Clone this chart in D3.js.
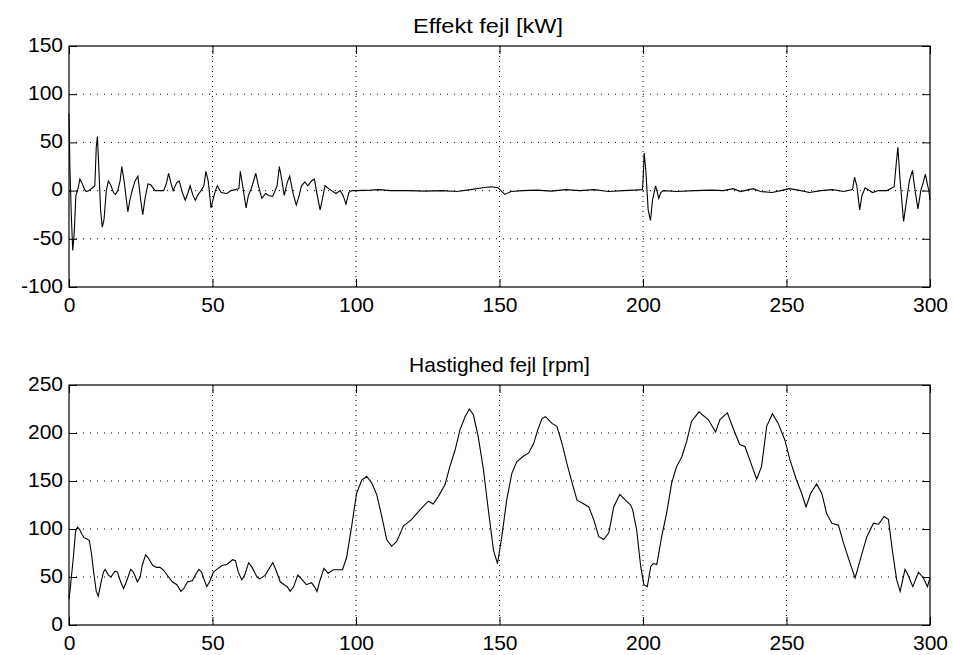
<!DOCTYPE html>
<html>
<head>
<meta charset="utf-8">
<script src="https://cdn.jsdelivr.net/npm/d3@7"></script>
<style>
  html, body { margin: 0; padding: 0; background: #fff; }
  svg text { font-family: "Liberation Sans", Arial, Helvetica, sans-serif; }
</style>
</head>
<body>
<svg id="chart" width="953" height="655"></svg>
<script>
// Effekt fejl [kW] (time, value)
const effektX = [0,0.3,0.8,1.3,1.8,2.4,3.0,3.8,4.5,5.3,6.0,7.0,8.2,9.0,9.5,9.9,10.3,11.0,11.6,12.2,13.0,13.7,14.5,15.5,16.2,17.0,17.8,18.4,19.2,20.5,21.2,22.0,23.0,24.0,25.0,25.7,26.5,27.5,28.5,30,33,34,34.7,35.5,36.3,37.5,38.4,39.5,40.5,41.5,42.2,43.2,44,45,46,47,47.7,48.5,49.5,50.3,51,51.7,53,55,56.5,58,59.2,59.7,60.5,61.7,62.5,63.5,65.1,66,67.2,68.5,69.5,71,72.5,73.3,74.2,75,76,76.9,78,79.2,80.2,81,82.2,83.2,84.5,85.5,86.5,87.5,88.2,89.2,90.5,91.5,93,94.5,95.5,96.5,97.5,98.5,100,105,108,112,118,124,130,135,140,144,147,149.5,151.8,154,158,163,168,173,178,183,188,193,197,199.8,200.1,200.4,201,201.8,202.6,203.3,204.4,205.5,206.2,207,212,218,224,228,231.4,234,238.4,241,245,248,251,255,258,262,266,270,273,273.7,274.5,275.5,276.3,277.4,280,282,285,287.5,288.3,288.8,289.6,290.8,291.6,292.8,293.9,294.8,295.8,296.8,297.8,298.4,299.2,299.6,300];
const effektY = [80,26,-25,-62,-45,-5,0,12,8,2,-1,0,3,5,45,56,30,-20,-38,-30,0,10,6,-2,-4,0,10,25,10,-22,-10,0,10,15,-10,-25,-8,7,6,0,0,8,18,8,0,8,10,-2,-10,-2,5,-5,-10,-4,0,5,20,10,-18,-8,0,5,-2,-3,0,1,2,20,5,-18,-5,2,18,5,-8,-3,-5,-6,5,25,10,-5,8,15,-2,-15,-5,5,9,5,10,12,-5,-20,-10,5,2,0,-3,0,-5,-14,-2,0,0,0.5,1,0,0,-0.5,0,-1,1,3,4,3,-4,-1,0,0.5,-0.5,1,0,1,-1,0,0.5,1,15,39,20,-20,-31,-10,5,-8,-2,0,-1,0,0.5,0,2,-1,2,-1,-2,0,2,0,-2,0,1,-1,1,14,5,-20,-5,3,-2,0,0,4,30,45,10,-32,-15,10,21,0,-19,0,10,17,5,0,-10];

// Hastighed fejl [rpm] (time, value)
const hastX = [0,0.5,1.5,2.3,3,3.8,4.4,5.2,6,7.1,7.8,8.6,9.5,10.2,11.2,12,12.6,13.7,14.6,16,16.9,18,19,20,21.5,22.5,23.8,24.8,25.5,26.7,27.6,29.2,30.5,31.7,33,34.7,36,37.6,39,40,41.3,43,44,45.3,46.2,47,48,49,50.3,51.5,53.3,55,57,58,59,60.2,61.2,62.6,63.8,65.5,66.5,68.4,69.6,71,72,73.6,75,76,77.1,78.3,79.7,81,82.7,84.5,85.5,86.4,87.3,88.8,90.3,92.1,95.3,96.7,98.5,100.2,102,103.7,105.5,107.2,109,110.7,112.4,114.2,116.5,119.4,122.3,125.2,126.9,128.7,131,132.7,134.5,136.2,138,139.5,140.9,142.6,144.4,146.1,147.9,149.3,150.8,152.5,154.3,156,158.4,160.1,161.9,163.3,164.8,166,168.3,170,171.8,173.5,175.3,177,178.8,181.1,182.8,184.6,186.3,188.1,189.8,191.9,193.9,195.7,196.4,197.8,199.2,200.3,201.5,202.7,203.6,204.8,206.5,208.2,210,211.7,213.5,215.2,216.9,219.5,222.7,225.3,226.8,229.4,231.4,233.7,235.5,237.2,239.6,241.3,243.1,245.1,247.1,249.4,251.2,253.5,255.3,256.8,258.4,260.5,262.3,264,265.8,268.1,269.9,272.2,273.9,275.7,278,280.3,282.1,284,285.5,287,288.4,289.6,291.3,292.5,294,296,297.7,299.1,300];
const hastY = [27,40,70,98,102,99,95,91,90,88,75,55,35,30,45,55,58,52,50,56,55,45,38,45,58,55,45,50,62,73,70,62,60,60,57,50,45,42,35,38,45,46,52,58,55,48,40,45,55,58,62,63,68,67,55,47,52,65,60,50,48,52,58,65,58,45,42,40,35,40,52,48,42,44,40,35,45,59,54,57.6,57.6,70,103,137,151,155,148,136,113,89,82,87,103,110,120,129,126,134,146,165,182,203,217,225,219,196,162,120,78,64,92,130,158,170,176,179,189,203,215,217,210,207,189,168,148,130,127,123,110,92,89,96,123,136,130,125,120,99,61,42,40,61,64,63,92,116,148,165,175,191,212,222,214,201,214,221,205,188,186,172,152,165,207,220,210,193,172,151,137,123,137,147,137,116,106,104,85,64,49,68,92,106,105,113,110,75,47,35,58,51,40,55,49,40,49];

const xTicks = [0, 50, 100, 150, 200, 250, 300];
const effektTicks = [-100, -50, 0, 50, 100, 150];
const hastTicks = [0, 50, 100, 150, 200, 250];

const svg = d3.select('#chart');
const left = 69, right = 930;
const fmt = d => String(d); // plain hyphen minus, like the original

const x = d3.scaleLinear().domain([0, 300]).range([left, right]);

function drawPanel(opts) {
  const { top, bottom, domain, yTicks, xs, ys, title, titleX, titleLen } = opts;
  const y = d3.scaleLinear().domain(domain).range([bottom, top]);
  const g = svg.append('g');

  // grid, dotted
  g.selectAll('.vgrid').data(xTicks.slice(1, -1)).join('line')
    .attr('x1', d => x(d)).attr('x2', d => x(d))
    .attr('y1', top).attr('y2', bottom)
    .attr('stroke', '#000').attr('stroke-width', 1)
    .attr('stroke-dasharray', '1,4');
  g.selectAll('.hgrid').data(yTicks.slice(1, -1)).join('line')
    .attr('x1', left).attr('x2', right)
    .attr('y1', d => y(d)).attr('y2', d => y(d))
    .attr('stroke', '#000').attr('stroke-width', 1)
    .attr('stroke-dasharray', '1,6');

  // axes, ticks pointing inward
  const styleAxis = sel => {
    sel.select('.domain').remove();
    sel.selectAll('.tick line').attr('stroke', '#000');
    sel.selectAll('.tick text').attr('fill', '#000').style('font-size', '21px');
  };
  g.append('g').attr('transform', `translate(${left},0)`)
    .call(d3.axisLeft(y).tickValues(yTicks).tickSize(-8).tickPadding(6).tickFormat(fmt))
    .call(styleAxis)
    .selectAll('.tick text').attr('dy', '0.25em');
  g.append('g').attr('transform', `translate(${right},0)`)
    .call(d3.axisRight(y).tickValues(yTicks).tickSize(-8).tickFormat(''))
    .call(styleAxis);
  g.append('g').attr('transform', `translate(0,${bottom})`)
    .call(d3.axisBottom(x).tickValues(xTicks).tickSize(-8).tickPadding(10).tickFormat(fmt))
    .call(styleAxis);
  g.append('g').attr('transform', `translate(0,${top})`)
    .call(d3.axisTop(x).tickValues(xTicks).tickSize(-8).tickFormat(''))
    .call(styleAxis);

  // box
  g.append('rect')
    .attr('x', left).attr('y', top)
    .attr('width', right - left).attr('height', bottom - top)
    .attr('fill', 'none').attr('stroke', '#000').attr('stroke-width', 1.2);

  // data line
  const pts = xs.map((v, i) => [v, ys[i]]);
  g.append('path')
    .datum(pts)
    .attr('fill', 'none')
    .attr('stroke', '#000')
    .attr('stroke-width', 1.1)
    .attr('d', d3.line().x(d => x(d[0])).y(d => y(d[1])));

  // title
  const t = g.append('text')
    .attr('x', titleX).attr('y', top - 13)
    .attr('text-anchor', 'middle')
    .attr('fill', '#000')
    .style('font-size', '21px')
    .text(title);
  if (titleLen) t.attr('textLength', titleLen).attr('lengthAdjust', 'spacingAndGlyphs');
}

drawPanel({
  top: 46, bottom: 287, domain: [-100, 150], yTicks: effektTicks,
  xs: effektX, ys: effektY, title: 'Effekt fejl [kW]', titleX: 488, titleLen: 150
});
drawPanel({
  top: 385, bottom: 625, domain: [0, 250], yTicks: hastTicks,
  xs: hastX, ys: hastY, title: 'Hastighed fejl [rpm]', titleX: 499.5
});
</script>
</body>
</html>
